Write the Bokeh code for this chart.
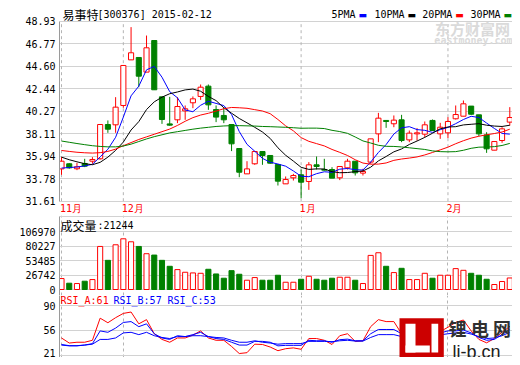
from bokeh.plotting import figure
from bokeh.layouts import column
from bokeh.models import (Range1d, FixedTicker, PrintfTickFormatter, Label,
                          BoxAnnotation, ColumnDataSource)
from bokeh.embed import file_html
from bokeh.resources import INLINE

# ---------------- data ----------------
stock_name = "易事特"
stock_code = "[300376]"
stock_date = "2015-02-12"
month_ticks = [0, 8, 31, 50]
month_labels = ["11月", "12月", "1月", "2月"]
price_ticks = [31.61, 33.78, 35.94, 38.11, 40.27, 42.44, 44.60, 46.77, 48.93]
vol_ticks = [0, 26742, 53485, 80227, 106970]
rsi_ticks = [21, 56, 90]
ma_names = ["5PMA", "10PMA", "20PMA", "30PMA"]
vol_name = "成交量"
rsi_names = ["RSI_A", "RSI_B", "RSI_C"]

open_px = [34.72, 35.21, 34.73, 35.24, 35.46, 35.69, 38.99, 38.96, 40.82, 45.21,
           45.44, 44.03, 47.07, 41.65, 39.05, 39.44, 40.30, 41.08, 41.69, 42.68,
           40.43, 39.86, 38.99, 36.68, 34.24, 35.21, 36.39, 36.01, 35.14, 33.28,
           33.86, 34.15, 33.51, 35.11, 34.66, 34.66, 33.86, 34.82, 35.46, 34.31,
           35.37, 38.09, 39.38, 39.06, 39.44, 37.51, 38.09, 38.06, 39.38, 38.09,
           38.19, 39.54, 39.79, 40.76, 39.92, 37.99, 36.52, 37.45, 39.22]
close_px = [35.46, 34.82, 34.92, 34.98, 35.62, 38.99, 38.54, 40.66, 44.67, 45.89,
            43.64, 46.37, 42.33, 39.47, 38.93, 40.72, 40.50, 41.46, 42.58, 40.88,
            39.70, 39.44, 37.13, 34.40, 34.72, 36.39, 36.01, 35.27, 33.54, 33.70,
            34.08, 33.44, 35.11, 34.95, 34.60, 33.83, 34.95, 35.46, 34.34, 34.47,
            37.61, 39.60, 39.28, 39.41, 37.45, 38.16, 38.19, 38.96, 38.41, 38.73,
            39.28, 39.95, 40.98, 39.98, 38.09, 36.65, 37.35, 38.57, 39.66]
high_px = [35.85, 35.27, 35.30, 35.69, 35.85, 38.99, 39.38, 41.62, 44.67, 48.36,
           45.44, 47.55, 47.07, 41.65, 41.65, 41.62, 40.82, 41.69, 42.84, 42.84,
           40.82, 40.66, 38.99, 36.68, 35.46, 36.39, 36.39, 36.01, 35.14, 33.99,
           34.24, 34.66, 35.37, 35.91, 35.69, 34.88, 34.95, 35.69, 35.46, 34.73,
           37.61, 40.11, 39.38, 39.86, 39.92, 38.41, 38.64, 39.28, 39.47, 39.15,
           39.70, 40.82, 41.30, 40.76, 39.92, 38.25, 37.35, 38.73, 40.66]
low_px = [34.15, 34.73, 34.60, 34.89, 35.21, 35.62, 38.19, 38.19, 40.60, 45.21,
          42.58, 44.03, 42.33, 39.05, 38.88, 39.12, 39.44, 40.56, 41.36, 40.40,
          39.22, 39.12, 36.43, 33.92, 34.24, 35.11, 35.11, 35.21, 33.12, 33.28,
          33.60, 31.90, 32.70, 34.66, 34.56, 33.83, 33.64, 34.66, 34.08, 34.08,
          35.21, 37.29, 38.67, 38.73, 37.29, 37.29, 37.45, 37.77, 38.41, 37.61,
          37.68, 39.47, 39.79, 39.92, 37.87, 36.26, 36.52, 37.23, 38.89]
volume = [20200, 11600, 11000, 15300, 18300, 79400, 53800, 82500, 93500, 88000,
          79400, 66000, 63500, 53800, 42800, 36700, 31800, 30550, 29900, 37300,
          28700, 20800, 34800, 28100, 17100, 22000, 17100, 17100, 26300, 13400,
          13400, 18900, 24400, 18900, 17100, 20800, 22600, 22600, 17100, 11000,
          62900, 67800, 42800, 31200, 39100, 18300, 18300, 29900, 20800, 26300,
          26300, 38500, 35400, 29900, 26300, 18900, 9200, 14700, 21244]
ma5 = [34.80, 34.85, 34.90, 35.00, 35.16, 35.87, 36.61, 37.76, 39.70, 41.75,
       42.68, 44.25, 44.58, 43.54, 42.15, 41.56, 40.39, 40.22, 40.84, 41.23,
       41.02, 40.81, 39.95, 38.31, 37.08, 36.42, 35.73, 35.36, 35.19, 34.98,
       34.52, 34.01, 33.97, 34.26, 34.44, 34.39, 34.69, 34.76, 34.64, 34.61,
       35.37, 36.30, 37.06, 38.07, 38.67, 38.78, 38.50, 38.43, 38.23, 38.49,
       38.71, 39.07, 39.47, 39.78, 39.66, 39.13, 38.61, 38.13, 38.06]
ma10 = [35.85, 35.60, 35.40, 35.22, 35.12, 35.35, 35.85, 36.50, 37.30, 38.46,
        39.27, 40.43, 41.17, 41.62, 41.95, 42.12, 42.32, 42.40, 42.19, 41.69,
        41.29, 40.60, 40.08, 39.57, 39.15, 38.72, 38.27, 37.65, 36.75, 36.03,
        35.47, 34.87, 34.67, 34.72, 34.71, 34.45, 34.35, 34.37, 34.45, 34.52,
        34.88, 35.49, 35.91, 36.36, 36.64, 37.07, 37.40, 37.75, 38.15, 38.58,
        38.75, 38.78, 38.95, 39.01, 39.07, 38.92, 38.84, 38.80, 38.92]
ma20 = [36.49, 36.40, 36.32, 36.27, 36.24, 36.28, 36.40, 36.62, 36.95, 37.25,
        37.55, 37.80, 38.05, 38.30, 38.55, 38.90, 39.30, 39.65, 39.90, 40.07,
        40.28, 40.51, 40.63, 40.60, 40.55, 40.42, 40.29, 40.03, 39.47, 38.86,
        38.38, 37.73, 37.37, 37.15, 36.93, 36.59, 36.31, 36.01, 35.60, 35.28,
        35.17, 35.18, 35.29, 35.54, 35.67, 35.76, 35.87, 36.06, 36.30, 36.55,
        36.81, 37.14, 37.43, 37.68, 37.86, 38.00, 38.12, 38.27, 38.54]
ma30 = [37.40, 37.28, 37.16, 37.05, 36.95, 36.88, 36.84, 36.84, 36.92, 37.10,
        37.35, 37.60, 37.82, 38.00, 38.18, 38.30, 38.42, 38.54, 38.64, 38.72,
        38.80, 38.85, 38.88, 38.88, 38.86, 38.84, 38.80, 38.78, 38.75, 38.72,
        38.68, 38.63, 38.64, 38.64, 38.60, 38.43, 38.31, 38.14, 37.79, 37.41,
        37.21, 36.99, 36.89, 36.88, 36.83, 36.75, 36.67, 36.59, 36.45, 36.38,
        36.36, 36.38, 36.51, 36.70, 36.81, 36.82, 36.86, 36.97, 37.17]
rsi_a = [45.2, 38.2, 39.3, 39.3, 42.0, 72.5, 66.2, 73.2, 79.1, 81.0,
         64.7, 70.5, 51.0, 43.2, 39.3, 45.2, 45.2, 49.1, 54.9, 45.2,
         42.0, 42.0, 33.5, 23.7, 24.9, 36.6, 36.2, 32.7, 27.6, 30.4,
         31.5, 29.6, 44.4, 44.4, 42.0, 36.2, 48.3, 51.0, 40.5, 41.3,
         60.8, 70.5, 67.8, 67.8, 51.0, 50.0, 50.5, 55.0, 50.0, 54.0,
         60.0, 66.6, 70.0, 55.0, 43.2, 38.5, 44.4, 53.0, 61.0]
rsi_b = [36.2, 34.6, 34.6, 35.4, 37.4, 54.9, 53.0, 58.8, 66.6, 67.8,
         60.8, 64.7, 51.0, 45.2, 43.2, 48.3, 47.1, 49.8, 53.0, 47.1,
         44.4, 43.2, 39.3, 35.4, 35.4, 40.5, 40.5, 39.3, 34.3, 35.0,
         35.0, 35.0, 42.0, 41.3, 41.3, 39.3, 42.8, 43.6, 41.3, 41.3,
         51.0, 56.9, 56.9, 56.9, 51.0, 49.0, 50.0, 52.0, 50.0, 52.0,
         55.0, 54.9, 56.1, 52.2, 45.9, 42.0, 43.2, 50.0, 57.0]
rsi_c = [35.4, 34.3, 34.3, 35.4, 36.6, 43.2, 43.2, 45.2, 52.2, 53.0,
         49.8, 53.0, 48.3, 45.9, 44.4, 47.1, 47.1, 48.3, 48.3, 47.1,
         45.9, 45.2, 42.0, 39.3, 39.3, 41.3, 39.3, 38.2, 36.6, 37.4,
         37.4, 37.4, 40.5, 40.5, 40.5, 40.1, 41.3, 42.0, 40.9, 40.9,
         45.9, 49.8, 49.8, 49.8, 47.1, 47.5, 48.0, 49.0, 48.5, 49.5,
         51.0, 52.2, 53.0, 50.6, 47.1, 44.4, 45.2, 48.3, 53.0]

# ---------------- styling ----------------
RED, GREEN, BLUE, BLACK = "#ff0000", "#008000", "#0000ff", "#000000"
MONO = "DejaVu Sans Mono"
CJK = "Noto Sans CJK SC"
GRID = "#d2d2d2"
BORDER = "#9a9a9a"
W = 512

n = len(close_px)
xs = list(range(n))
up = [c >= o for o, c in zip(open_px, close_px)]
src = ColumnDataSource(dict(
    x=xs, high=high_px, low=low_px,
    top=[max(o, c) for o, c in zip(open_px, close_px)],
    bottom=[min(o, c) for o, c in zip(open_px, close_px)],
    fill=["white" if u else GREEN for u in up],
    line=[RED if u else GREEN for u in up],
    vol=volume, ma5=ma5, ma10=ma10, ma20=ma20, ma30=ma30,
    ra=rsi_a, rb=rsi_b, rc=rsi_c))

XR = Range1d(-0.26, 58.35)


def base(height, yr):
    p = figure(width=W, height=height, x_range=XR, y_range=yr,
               output_backend="svg", toolbar_location=None,
               x_axis_location=None,
               min_border_left=59, min_border_right=0,
               min_border_top=0, min_border_bottom=0)
    p.outline_line_color = None
    p.background_fill_color = "white"
    p.border_fill_color = "white"
    ax = p.yaxis[0]
    ax.axis_line_color = BORDER
    ax.major_tick_line_color = None
    ax.minor_tick_line_color = None
    ax.major_tick_out = 0
    ax.major_tick_in = 0
    ax.major_label_standoff = 4
    ax.major_label_text_font = MONO
    ax.major_label_text_font_size = "10px"
    ax.major_label_text_color = BLACK
    p.ygrid.grid_line_color = GRID
    p.xgrid.ticker = FixedTicker(ticks=month_ticks)
    p.xgrid.grid_line_color = "#b4b4b4"
    p.xgrid.grid_line_dash = "3 3"
    return p


def lab(p, x, y, text, color=BLACK, font=MONO, size="10px", align="left",
        baseline="middle", style="normal", xu="screen", yu="screen",
        xo=0, yo=0):
    p.add_layout(Label(x=x, y=y, x_units=xu, y_units=yu, text=text,
                       text_color=color, text_font=font, text_font_size=size,
                       text_align=align, text_baseline=baseline,
                       text_font_style=style, x_offset=xo, y_offset=yo))


# ---------------- price panel ----------------
pp = 180 / (price_ticks[-1] - price_ticks[0])          # px per price unit
p1 = base(215, Range1d(price_ticks[0] - 14.3 / pp, price_ticks[-1] + 20.7 / pp))
p1.yaxis.ticker = FixedTicker(ticks=price_ticks)
p1.yaxis.formatter = PrintfTickFormatter(format="%.2f")
p1.yaxis.bounds = (price_ticks[0], price_ticks[-1])
p1.xgrid.grid_line_color = None
p1.segment(x0=month_ticks, x1=month_ticks, y0=price_ticks[0], y1=price_ticks[-1],
           line_color="#b4b4b4", line_dash="3 3", line_width=1)

# watermark
lab(p1, 413, 187.5, "东方财富网", color="#dadada", font=CJK, size="15px",
    align="center", style="bold")
lab(p1, 414, 174.7, "eastmoney.com", color="#dadada", font=MONO,
    size="10px", align="center", style="bold")

p1.segment(x0="x", y0="low", x1="x", y1="high", line_color="line",
           line_width=1, source=src)
p1.vbar(x="x", width=0.66, top="top", bottom="bottom", fill_color="fill",
        line_color="line", line_width=1, source=src)
for key, col in zip(["ma5", "ma10", "ma20", "ma30"], [BLUE, BLACK, RED, GREEN]):
    p1.line("x", key, source=src, line_color=col, line_width=1)

# title + legend
lab(p1, 3, 201.5, stock_name, font=CJK, size="12px")
lab(p1, 38, 201.5, stock_code + " " + stock_date)
leg_x = [272, 315, 362.7, 411]
for name, col, lx in zip(ma_names, [BLUE, BLACK, RED, GREEN], leg_x):
    lab(p1, lx, 201, name)
    lab(p1, lx + 6.02 * len(name) + 3, 201, "\u25ac", color=col,
        font="DejaVu Sans", size="9px")

# month labels
for t, m in zip(month_ticks, month_labels):
    lab(p1, t, 6.7, m, color=RED, xu="data", xo=-1.5)

# ---------------- volume panel ----------------
vp = 58 / vol_ticks[-1]                                  # px per volume unit
vol_box_top = 73 / vp
p2 = base(80, Range1d(-6 / vp, 74 / vp))
p2.yaxis.ticker = FixedTicker(ticks=vol_ticks)
p2.yaxis.formatter = PrintfTickFormatter(format="%d")
p2.yaxis.bounds = (-6 / vp, vol_box_top)
p2.ygrid.ticker = FixedTicker(ticks=vol_ticks + [vol_box_top])
p2.vbar(x="x", width=0.66, top="vol", bottom=0, fill_color="fill",
        line_color="line", line_width=1, source=src)
lab(p2, 1, 70, vol_name, font=CJK, size="12px")
lab(p2, 38, 70, ":" + str(volume[-1]))

# ---------------- RSI panel ----------------
rp = 50 / (rsi_ticks[-1] - rsi_ticks[0])                 # px per RSI unit
p3 = base(62, Range1d(rsi_ticks[0] - 2 / rp, rsi_ticks[-1] + 10 / rp))
low_label_pos = round(rsi_ticks[0] + 3 / rp, 2)          # bottom label kept inside
p3.yaxis.ticker = FixedTicker(ticks=[low_label_pos] + rsi_ticks[1:])
p3.yaxis.major_label_overrides = {low_label_pos: str(rsi_ticks[0])}
p3.yaxis.formatter = PrintfTickFormatter(format="%d")
p3.ygrid.ticker = FixedTicker(ticks=rsi_ticks)
for key, col in zip(["ra", "rb", "rc"], [RED, BLUE, BLUE]):
    p3.line("x", key, source=src, line_color=col, line_width=1)
last_vals = [rsi_a[-1], rsi_b[-1], rsi_c[-1]]
for name, v, col, lx in zip(rsi_names, last_vals, [RED, BLUE, BLUE], [1, 54, 108]):
    lab(p3, lx, 57, f"{name}:{v:.0f}", color=col)

# li-b.cn logo (watermark)
for l, r, b, t, c in [(340, 384.3, 0, 39.3, "#cc0000"),
                      (346, 356, 5, 33.7, "white"),
                      (346, 370.3, 5, 12, "white"),
                      (372, 378.7, 5, 33.7, "white")]:
    p3.add_layout(BoxAnnotation(left=l, right=r, bottom=b, top=t,
                                left_units="screen", right_units="screen",
                                bottom_units="screen", top_units="screen",
                                fill_color=c, fill_alpha=1, line_color=None))
for ch, cx in zip("锂电网", [398, 420.5, 442.5]):
    lab(p3, cx, 30, ch, color="#303030", font=CJK, size="18px", align="center",
        style="bold")
lab(p3, 393, 6, "li-b.cn", color="#202020", font="Liberation Sans",
    size="18px", baseline="alphabetic")

layout = column(p1, p2, p3, spacing=0)
open("out.html", "w").write(file_html(layout, INLINE))
